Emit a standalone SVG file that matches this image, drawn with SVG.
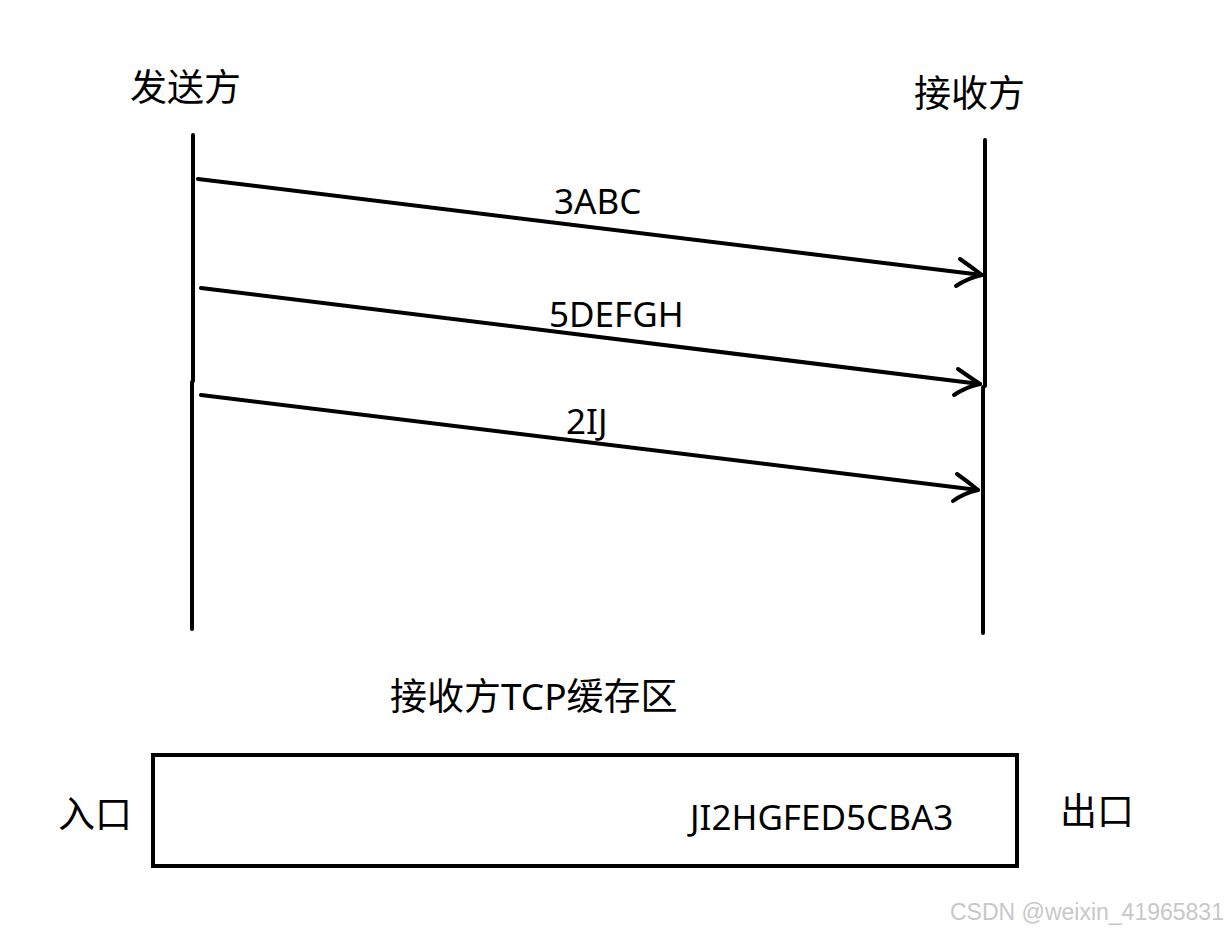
<svg xmlns="http://www.w3.org/2000/svg" width="1230" height="931" viewBox="0 0 1230 931">
<style>
.t{font-family:"Noto Sans","Noto Sans CJK SC",sans-serif;fill:#000}
.big{font-size:37px}
.lab{font-size:35px}
.ln{stroke:#000;stroke-width:4;fill:none;stroke-linecap:round;stroke-linejoin:round}
.wm{font-family:"Liberation Sans",Arial,sans-serif;font-size:23px;fill:#c8c8c8}
</style>
<rect width="1230" height="931" fill="#fff"/>
<g id="sender">
<text class="t big" x="130" y="101">发送方</text>
<path class="ln" d="M193 135 L193 381 M192 382 L192 629"/>
</g>
<g id="receiver">
<text class="t big" x="914" y="107">接收方</text>
<path class="ln" d="M985 140 L985 386 M983 387 L983 633"/>
</g>
<g id="connectors">
<path class="ln" d="M198 179 L982 275"/>
<path class="ln" d="M960 259 Q970 266 982 275 Q968 278 956 286"/>
<path class="ln" d="M201 288 L980 384"/>
<path class="ln" d="M958 369 Q968 376 980 384 Q966 387 954 395"/>
<path class="ln" d="M201 395 L978 490"/>
<path class="ln" d="M957 474 Q967 481 978 490 Q964 493 953 501"/>
<text class="t lab" x="554" y="214">3ABC</text>
<text class="t lab" x="549" y="327">5DEFGH</text>
<text class="t lab" x="566" y="434">2IJ</text>
</g>
<g id="buffer">
<text class="t big" x="390" y="710">接收方TCP缓存区</text>
<rect x="153" y="755" width="864" height="111" fill="none" stroke="#000" stroke-width="4"/>
<text class="t lab" x="690" y="830">JI2HGFED5CBA3</text>
</g>
<g id="entry"><text class="t big" x="58" y="828">入口</text></g>
<g id="exit"><text class="t big" x="1060" y="825">出口</text></g>
<text class="wm" x="950" y="920">CSDN @weixin_41965831</text>
</svg>
